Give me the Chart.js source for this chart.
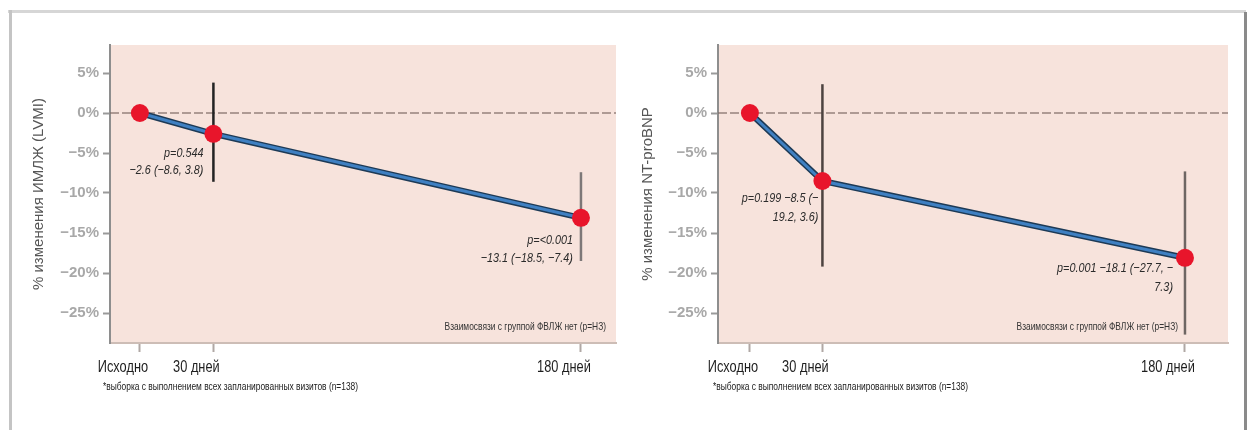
<!DOCTYPE html>
<html>
<head>
<meta charset="utf-8">
<script src="https://cdn.jsdelivr.net/npm/chart.js@4"></script>
<style>
  body { margin: 0; background: #fff; width: 1250px; height: 430px; overflow: hidden; position: relative; }
  .frame-top { position: absolute; left: 8px; top: 10px; width: 1238px; height: 3px; background: #d6d6d6; }
  .frame-left { position: absolute; left: 9px; top: 10px; width: 3px; height: 420px; background: #c4c4c4; }
  .frame-right { position: absolute; left: 1244px; top: 12px; width: 3px; height: 418px; background: #8a8a8a; }
  canvas { position: absolute; top: 0; }
</style>
</head>
<body>
<div class="frame-top"></div>
<div class="frame-left"></div>
<div class="frame-right"></div>
<canvas id="lvmi-chart" width="625" height="430" style="left:0"></canvas>
<canvas id="bnp-chart" width="625" height="430" style="left:625px"></canvas>
<script>
// visits
const visits = ['Исходно', '30 дней', '180 дней'];
const visitDays = [0, 30, 180];
const yTicks = [5, 0, -5, -10, -15, -20, -25];

// LVMI change, % (mean, 95% CI)
const lvmiMean = [0, -2.6, -13.1];
const lvmiLow = [null, -8.6, -18.5];
const lvmiHigh = [null, 3.8, -7.4];
const lvmiNotes = [null, ['p=0.544', '−2.6 (−8.6, 3.8)'], ['p=<0.001', '−13.1 (−18.5, −7.4)']];

// NT-proBNP change, % (mean, 95% CI)
const bnpMean = [0, -8.5, -18.1];
const bnpLow = [null, -19.2, -27.7];
const bnpHigh = [null, 3.6, -7.3];
const bnpNotes = [null, ['p=0.199 −8.5 (−', '19.2, 3.6)'], ['p=0.001 −18.1 (−27.7, −', '7.3)']];

const footnote = '*выборка с выполнением всех запланированных визитов (n=138)';
const groupNote = 'Взаимосвязи с группой ФВЛЖ нет (p=НЗ)';

const sans = "'Liberation Sans', Arial, sans-serif";
const NARROW = 0.8; // Arial Narrow look: squeeze Liberation Sans horizontally

function fmtPct(v) {
    return (v < 0 ? '−' + Math.abs(v) : v) + '%';
}

function narrowText(ctx, text, x, y, align, font, color) {
    ctx.save();
    ctx.font = font;
    ctx.fillStyle = color;
    ctx.textAlign = align;
    ctx.textBaseline = 'middle';
    ctx.translate(x, y);
    ctx.scale(NARROW, 1);
    ctx.fillText(text, 0, 0);
    ctx.restore();
}

// Pink plot area, dashed zero line, notes
const decorPlugin = {
    id: 'decor',
    beforeDraw(chart) {
        const a = chart.chartArea, ctx = chart.ctx;
        ctx.save();
        ctx.fillStyle = '#f7e3dc';
        ctx.fillRect(a.left, a.top, a.right - a.left, a.bottom - a.top);
        ctx.restore();
    },
    beforeDatasetsDraw(chart) {
        const a = chart.chartArea, ctx = chart.ctx;
        const y0 = chart.scales.y.getPixelForValue(0);
        ctx.save();
        ctx.strokeStyle = 'rgba(125,105,100,0.6)';
        ctx.lineWidth = 2;
        ctx.setLineDash([9, 3]);
        ctx.beginPath();
        ctx.moveTo(a.left, y0);
        ctx.lineTo(a.right, y0);
        ctx.stroke();
        ctx.restore();
    },
    afterDraw(chart) {
        const o = chart.options.plugins.decor;
        const a = chart.chartArea, ctx = chart.ctx;
        const xs = chart.scales.x, ys = chart.scales.y;
        o.notes.forEach((lines, i) => {
            if (!lines) return;
            const off = o.noteOffsets[i];
            const px = xs.getPixelForValue(visitDays[i]) + off[0];
            const py = ys.getPixelForValue(o.mean[i]) + off[1];
            lines.forEach((t, k) => narrowText(ctx, t, px, py + k * off[2], 'right', 'italic 13.5px ' + sans, '#2b2b2b'));
        });
        narrowText(ctx, groupNote, a.right - o.groupDx, a.bottom - 16, 'right', '10.5px ' + sans, '#333');
        narrowText(ctx, footnote, a.left - o.footDx, 387, 'left', '10.5px ' + sans, '#222');
        xs.ticks.forEach((t, i) => {
            narrowText(ctx, visits[i], xs.getPixelForValue(t.value) + o.labelDx, 368, 'center', '16px ' + sans, '#1e1e1e');
        });
    }
};

function makeChart(id, cfg) {
    const pts = visitDays.map((d, i) => ({ x: d, y: cfg.mean[i] }));
    const bars = [];
    visitDays.forEach((d, i) => {
        if (cfg.low[i] === null) return;
        bars.push({
            data: [{ x: d, y: cfg.low[i] }, { x: d, y: cfg.high[i] }],
            borderColor: cfg.barColors[i],
            borderWidth: 2.5,
            pointRadius: 0,
            order: 3
        });
    });

    return new Chart(document.getElementById(id), {
        type: 'line',
        data: {
            datasets: [
                {
                    data: pts,
                    borderColor: '#3f80c2',
                    borderWidth: 3,
                    pointRadius: 9,
                    pointBackgroundColor: '#e8152b',
                    pointBorderWidth: 0,
                    order: 0
                },
                {
                    data: pts,
                    borderColor: '#1d3a56',
                    borderWidth: 6,
                    pointRadius: 0,
                    order: 1
                },
                ...bars
            ]
        },
        options: {
            responsive: false,
            animation: false,
            devicePixelRatio: 1,
            layout: { padding: { top: 45, right: cfg.padRight, left: 0, bottom: 0 } },
            plugins: {
                legend: { display: false },
                tooltip: { enabled: false },
                decor: {
                    mean: cfg.mean,
                    notes: cfg.notes,
                    noteOffsets: cfg.noteOffsets,
                    groupDx: cfg.groupDx,
                    footDx: cfg.footDx,
                    labelDx: -17
                }
            },
            scales: {
                x: {
                    type: 'linear',
                    min: cfg.xMin,
                    max: cfg.xMax,
                    afterBuildTicks: s => { s.ticks = visitDays.map(v => ({ value: v })); },
                    afterFit: s => { s.height = 87; },
                    ticks: {
                        // labels drawn condensed by the decor plugin at the tick positions
                        display: false
                    },
                    grid: { drawOnChartArea: false, drawTicks: true, tickLength: 9, tickWidth: 2, tickColor: '#b0a8a5' },
                    border: { color: '#cdbdb6', width: 2 }
                },
                y: {
                    min: -28.75,
                    max: 8.5,
                    afterBuildTicks: s => { s.ticks = yTicks.map(v => ({ value: v })); },
                    afterFit: s => { s.width = cfg.yWidth; },
                    ticks: {
                        padding: 4,
                        color: '#a8a8a8',
                        font: { family: sans, size: 15, weight: 'bold' },
                        callback: v => fmtPct(v)
                    },
                    grid: { drawOnChartArea: false, drawTicks: true, tickLength: 7, tickWidth: 2, tickColor: '#9a9a9a' },
                    border: { color: '#8e8e8e', width: 2 },
                    title: {
                        display: true,
                        text: cfg.title,
                        color: '#555',
                        font: { family: sans, size: 15 },
                        padding: { top: cfg.titlePad, bottom: 0 }
                    }
                }
            }
        },
        plugins: [decorPlugin]
    });
}

makeChart('lvmi-chart', {
    mean: lvmiMean, low: lvmiLow, high: lvmiHigh, notes: lvmiNotes,
    noteOffsets: [null, [-10, 19, 17], [-8, 22, 18]],
    barColors: [null, '#232323', '#7d7878'],
    title: '% изменения ИМЛЖ (LVMI)',
    titlePad: 30, yWidth: 110, padRight: 8,
    xMin: -12.2, xMax: 194.3, groupDx: 10, footDx: 7
});

makeChart('bnp-chart', {
    mean: bnpMean, low: bnpLow, high: bnpHigh, notes: bnpNotes,
    noteOffsets: [null, [-4, 17, 19], [-12, 10, 19]],
    barColors: [null, '#4d4340', '#6e6663'],
    title: '% изменения NT-proBNP',
    titlePad: 14, yWidth: 93, padRight: 22,
    xMin: -13.2, xMax: 197.8, groupDx: 50, footDx: 5
});
</script>
</body>
</html>
